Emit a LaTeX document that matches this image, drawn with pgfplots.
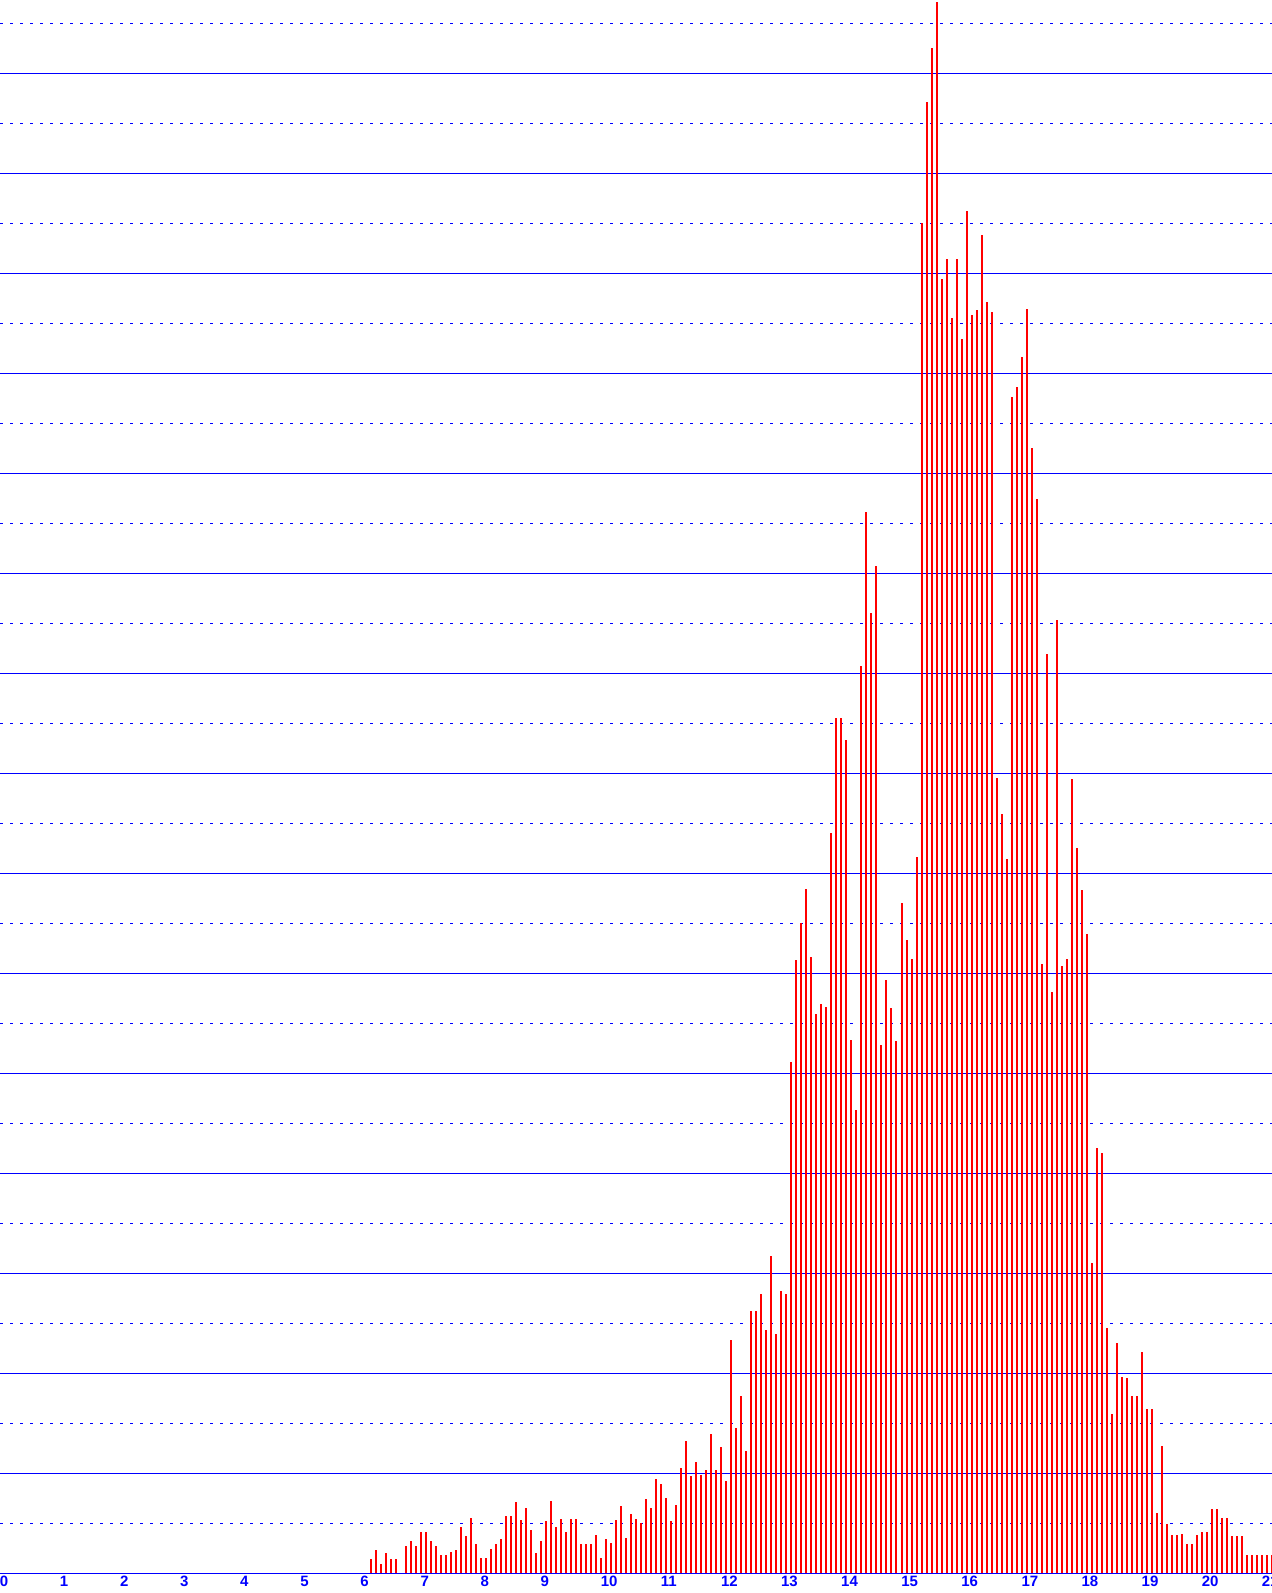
\documentclass[border=0pt]{standalone}
\usepackage{pgfplots}
\usepackage{pgfplotstable}
\pgfplotsset{compat=1.18}
\usepackage{fontspec}
\setmainfont{Liberation Sans}
\definecolor{gridblue}{RGB}{0,0,255}
\definecolor{barred}{RGB}{255,0,0}
\pgfplotstableread{
k v
74 1.43
75 2.33
76 0.93
77 2.03
78 1.43
79 1.43
81 2.73
82 3.23
83 2.73
84 4.13
85 4.13
86 3.23
87 2.73
88 1.83
89 1.83
90 2.13
91 2.33
92 4.63
93 3.73
94 5.53
95 2.93
96 1.53
97 1.53
98 2.43
99 2.93
100 3.43
101 5.73
102 5.73
103 7.13
104 5.33
105 6.53
106 4.33
107 2.03
108 3.23
109 5.23
110 7.23
111 4.63
112 5.43
113 4.13
114 5.43
115 5.43
116 2.93
117 2.93
118 2.93
119 3.83
120 1.53
121 3.43
122 3.03
123 5.33
124 6.73
125 3.53
126 5.93
127 5.43
128 5.0
129 7.43
130 6.53
131 9.43
132 8.93
133 7.53
134 5.23
135 6.83
136 10.53
137 13.23
138 9.73
139 11.13
140 9.83
141 10.33
142 13.93
143 10.33
144 12.63
145 9.23
146 23.33
147 14.57
148 17.73
149 12.23
150 26.23
151 26.23
152 27.93
153 24.33
154 31.73
155 23.93
156 28.23
157 27.93
158 51.1
159 61.3
160 65.0
161 68.4
162 61.6
163 55.9
164 56.9
165 56.6
166 74.0
167 85.5
168 85.5
169 83.3
170 53.3
171 46.3
172 90.7
173 106.1
174 96.0
175 100.7
176 52.8
177 59.3
178 56.5
179 53.2
180 67.0
181 63.3
182 61.4
183 71.6
184 135.0
185 147.1
186 152.5
187 157.1
188 129.4
189 131.4
190 125.5
191 131.4
192 123.4
193 136.2
194 125.8
195 126.3
196 133.8
197 127.1
198 126.1
199 79.5
200 75.9
201 71.4
202 117.6
203 118.6
204 121.6
205 126.4
206 112.5
207 107.4
208 60.9
209 91.9
210 58.1
211 95.3
212 60.7
213 61.4
214 79.4
215 72.5
216 68.3
217 63.9
218 31.03
219 42.53
220 42.03
221 24.53
222 15.93
223 23.03
224 19.63
225 19.53
226 17.73
227 17.73
228 22.13
229 16.43
230 16.43
231 6.03
232 12.73
233 4.93
234 3.83
235 3.83
236 3.93
237 2.93
238 2.93
239 3.83
240 4.13
241 4.13
242 6.43
243 6.43
244 5.53
245 5.53
246 3.73
247 3.73
248 3.73
249 1.83
250 1.83
251 1.83
252 1.83
253 1.83
254 1.83
}\datatab
\begin{document}
\begin{tikzpicture}
\begin{axis}[
  scale only axis,
  width=636pt, height=786.65pt,
  xmin=0, xmax=21.165, ymin=0, ymax=157.33,
  enlargelimits=false,
  axis line style={draw=none},
  major tick length=0pt, minor tick length=0pt,
  xtick={0,1,2,3,4,5,6,7,8,9,10,11,12,13,14,15,16,17,18,19,20,21},
  xticklabels={0,1,2,3,4,5,6,7,8,9,10,11,12,13,14,15,16,17,18,19,20,21},
  xticklabel style={font=\fontsize{7.5}{8}\selectfont\bfseries, text=gridblue, anchor=north west, inner sep=0pt, yshift=-1.3pt, xshift=-0.3pt},
  ytick={10,20,...,150},
  minor ytick={5,15,...,155},
  ymajorticks=false, yminorticks=false,
  ymajorgrids, yminorgrids,
  major grid style={gridblue, line width=0.5pt},
  minor grid style={gridblue, line width=0.55pt, dash pattern=on 1.3pt off 3.7pt},
]
\draw[gridblue, line width=0.6pt] (axis cs:0,0) -- (axis cs:21.165,0);
\addplot[ycomb, barred, line width=1pt, mark=none] table[x expr=\thisrow{k}/12, y=v] {\datatab};
\end{axis}
\pgfresetboundingbox
\useasboundingbox (0,-9.85pt) rectangle (636pt,786.65pt);
\end{tikzpicture}
\end{document}
